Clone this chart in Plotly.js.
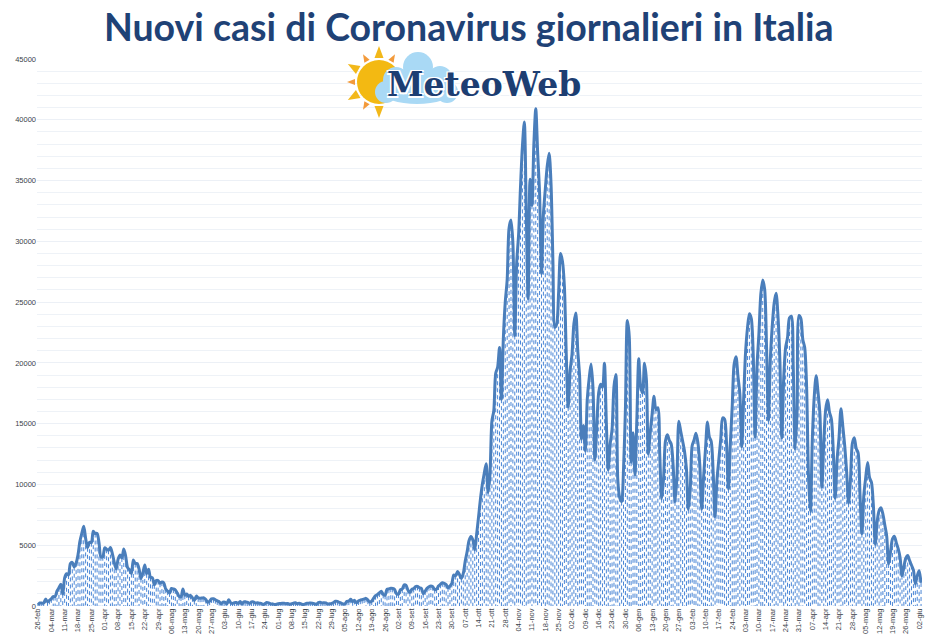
<!DOCTYPE html>
<html>
<head>
<meta charset="utf-8">
<script src="https://cdn.plot.ly/plotly-3.0.1.min.js"></script>
<style>
  html, body { margin: 0; padding: 0; background: #ffffff; }
  #chart { width: 932px; height: 639px; }
</style>
</head>
<body>
<div id="chart"></div>
<script>
// ---- Data: daily new cases in Italy, starting 26-feb-2020 ----
const feb2020 = [78, 250, 238, 240];
const mar2020 = [566, 342, 466, 587, 769, 778, 1247, 1492, 1797, 977, 2313, 2651, 2547, 3497, 3590, 3233, 3526, 4207, 5322, 5986, 6557, 5560, 4789, 5249, 5210, 6153, 5959, 5974, 5217, 4050, 4053];
const apr2020 = [4782, 4668, 4585, 4805, 4316, 3599, 3039, 3836, 4204, 3951, 4694, 4092, 3153, 2972, 2667, 3786, 3493, 3491, 3047, 2256, 2729, 3370, 2646, 3021, 2357, 2324, 1739, 2091, 2086, 1872];
const may2020 = [1965, 1900, 1389, 1221, 1075, 1444, 1401, 1327, 1083, 802, 744, 1402, 888, 992, 789, 875, 675, 451, 813, 665, 642, 652, 669, 531, 300, 397, 584, 593, 516, 416, 355];
const jun2020 = [178, 318, 321, 177, 518, 270, 197, 280, 283, 202, 379, 163, 346, 338, 301, 210, 329, 333, 251, 262, 224, 218, 122, 190, 296, 259, 175, 174, 126, 142];
const jul2020 = [187, 201, 223, 235, 192, 208, 138, 193, 229, 276, 188, 234, 169, 114, 162, 230, 233, 249, 219, 190, 129, 282, 306, 252, 275, 255, 170, 181, 212, 289, 386];
const aug2020 = [379, 295, 239, 159, 190, 384, 402, 552, 347, 463, 259, 412, 481, 523, 574, 629, 479, 320, 403, 642, 845, 947, 1071, 1210, 953, 878, 1367, 1411, 1460, 1444, 1365];
const sep2020 = [996, 978, 1326, 1397, 1733, 1695, 1297, 1108, 1370, 1434, 1597, 1616, 1501, 1458, 1008, 1229, 1452, 1585, 1638, 1587, 1350, 1392, 1640, 1786, 1912, 1869, 1766, 1494, 1648, 1851];
const oct2020 = [2548, 2499, 2844, 2578, 2257, 2677, 3678, 4458, 5372, 5724, 5456, 4619, 5901, 7332, 8804, 10010, 10925, 11705, 9338, 10874, 15199, 16079, 19143, 19644, 21273, 17012, 21994, 24991, 26831, 31084, 31758];
const nov2020 = [29907, 22253, 28244, 30550, 34505, 37809, 39811, 32616, 25271, 35098, 32961, 37978, 40902, 37255, 33979, 27354, 32191, 34283, 36176, 37242, 34767, 28337, 22930, 23232, 25853, 29003, 28352, 26323, 20648, 16377];
const dec2020 = [19350, 20709, 23225, 24099, 21052, 18887, 13720, 14842, 12756, 16999, 18727, 19903, 17938, 12030, 14844, 17572, 18236, 17992, 19974, 15104, 11210, 13318, 14522, 18040, 19037, 10407, 8913, 8585, 11212, 16202, 23477];
const jan2021 = [22211, 11831, 14245, 10800, 15378, 20331, 18020, 17533, 19978, 18627, 12532, 14242, 15774, 17246, 16146, 16310, 12545, 8825, 10497, 13571, 14078, 13633, 13331, 11629, 8561, 10593, 15204, 14372, 13574, 12715, 11252];
const feb2021 = [7925, 9660, 13189, 13659, 14218, 13442, 11641, 7970, 10630, 12956, 15146, 13908, 13532, 11068, 7351, 10386, 12074, 13762, 15479, 15370, 13452, 9630, 13314, 16424, 19886, 20499, 18916, 17455];
const mar2021 = [13114, 17083, 20884, 22865, 24036, 23641, 20765, 13902, 19749, 22409, 25673, 26824, 26062, 21315, 15267, 20396, 23059, 24935, 25735, 23832, 20159, 13846, 18765, 21267, 22072, 23696, 23839, 19611, 12916, 16017, 23904];
const apr2021 = [23649, 21932, 21261, 18025, 10680, 7767, 13708, 17221, 18938, 17567, 15746, 9789, 13447, 16168, 16974, 15943, 15370, 12694, 8864, 12074, 13844, 16232, 14761, 13158, 11000, 8444, 10404, 13385, 13844, 12965];
const may2021 = [12603, 9148, 5948, 9116, 10585, 11807, 10554, 10176, 8292, 5080, 6946, 7852, 8085, 7567, 6659, 5753, 3455, 4452, 5506, 5741, 5218, 4717, 3995, 2490, 3224, 3937, 4147, 3738, 3351, 2949, 1820];
const jun2021 = [2483, 2897, 1896];

// Weekly tick labels (one every 7 days from 26-feb-2020)
const tickLabels = ['26-feb','04-mar','11-mar','18-mar','25-mar','01-apr','08-apr','15-apr','22-apr','29-apr',
  '06-mag','13-mag','20-mag','27-mag','03-giu','10-giu','17-giu','24-giu','01-lug','08-lug','15-lug','22-lug','29-lug',
  '05-ago','12-ago','19-ago','26-ago','02-set','09-set','16-set','23-set','30-set','07-ott','14-ott','21-ott','28-ott',
  '04-nov','11-nov','18-nov','25-nov','02-dic','09-dic','16-dic','23-dic','30-dic','06-gen','13-gen','20-gen','27-gen',
  '03-feb','10-feb','17-feb','24-feb','03-mar','10-mar','17-mar','24-mar','31-mar','07-apr','14-apr','21-apr','28-apr',
  '05-mag','12-mag','19-mag','26-mag','02-giu'];

const yTicks = [0, 5000, 10000, 15000, 20000, 25000, 30000, 35000, 40000, 45000];

const titleText = 'Nuovi casi di Coronavirus giornalieri in Italia';
const logoText = 'MeteoWeb';

// ---- Build traces ----
const values = [].concat(feb2020, mar2020, apr2020, may2020, jun2020, jul2020, aug2020, sep2020,
  oct2020, nov2020, dec2020, jan2021, feb2021, mar2021, apr2021, may2021, jun2021);
const days = values.map((v, i) => i);

// drop lines drawn from each point down to the axis (dash phase starts at the point)
const dropX = [], dropY = [];
values.forEach((v, i) => { dropX.push(i, i, null); dropY.push(v, 0, null); });

const dropTrace = {
  x: dropX, y: dropY, type: 'scatter', mode: 'lines',
  line: { color: '#4A86D6', width: 1, dash: '4px,3px' },
  hoverinfo: 'skip', showlegend: false
};
const lineTrace = {
  x: days, y: values, type: 'scatter', mode: 'lines',
  line: { color: '#4A7EBB', width: 3, shape: 'spline', smoothing: 0.8 },
  showlegend: false
};

// ---- Logo geometry (pixel -> paper helpers) ----
const L = 37, R = 922, T = 59, B = 606;
const px = v => (v - L) / (R - L);
const py = v => (B - v) / (B - T);
function circ(cx, cy, r, color) {
  return { type: 'circle', xref: 'paper', yref: 'paper',
    x0: px(cx - r), x1: px(cx + r), y0: py(cy + r), y1: py(cy - r),
    fillcolor: color, line: { width: 0 }, layer: 'above' };
}
function ray(cx, cy, r, len, angDeg, halfW, color) {
  const a = angDeg * Math.PI / 180;
  const bx = cx + Math.cos(a) * r, by = cy - Math.sin(a) * r;
  const tx = cx + Math.cos(a) * (r + len), ty = cy - Math.sin(a) * (r + len);
  const nx = -Math.sin(a) * halfW, ny = -Math.cos(a) * halfW;
  const p = (x, y) => px(x).toFixed(5) + ',' + py(y).toFixed(5);
  return { type: 'path', xref: 'paper', yref: 'paper',
    path: 'M' + p(bx + nx, by + ny) + ' L' + p(tx, ty) + ' L' + p(bx - nx, by - ny) + ' Z',
    fillcolor: color, line: { width: 0 }, layer: 'above' };
}
const sunC = [379, 82], sunR = 22;
const shapes = [
  ray(sunC[0], sunC[1], sunR + 2, 12, 90, 4.5, '#F2B81A'),
  ray(sunC[0], sunC[1], sunR + 2, 8, 60, 3, '#F39A3A'),
  ray(sunC[0], sunC[1], sunR + 2, 8, 120, 3, '#F39A3A'),
  ray(sunC[0], sunC[1], sunR + 2, 12, 150, 4.5, '#F2B81A'),
  ray(sunC[0], sunC[1], sunR + 2, 8, 180, 3, '#F39A3A'),
  ray(sunC[0], sunC[1], sunR + 2, 12, 210, 4.5, '#F2B81A'),
  ray(sunC[0], sunC[1], sunR + 2, 8, 240, 3, '#F39A3A'),
  ray(sunC[0], sunC[1], sunR + 2, 12, 270, 4.5, '#F2B81A'),
  circ(sunC[0], sunC[1], sunR, '#F3B912'),
  circ(418, 67, 15, '#A9D9F5'),
  circ(396, 80, 13, '#A9D9F5'),
  circ(386, 92, 11, '#A9D9F5'),
  circ(440, 78, 12, '#A9D9F5'),
  circ(447, 92, 11, '#A9D9F5'),
  { type: 'circle', xref: 'paper', yref: 'paper', x0: px(382), x1: px(452), y0: py(104), y1: py(80),
    fillcolor: '#A9D9F5', line: { width: 0 }, layer: 'above' },
  circ(416, 84, 16, '#A9D9F5')
];

const tickFont = { family: 'Liberation Sans, Arial, sans-serif', size: 7.5, color: '#3B3F4A' };

const layout = {
  width: 932, height: 639,
  margin: { l: L, r: 932 - R, t: T, b: 639 - B, pad: 0 },
  paper_bgcolor: '#ffffff', plot_bgcolor: '#ffffff',
  showlegend: false,
  title: {
    text: '<b>' + titleText + '</b>',
    font: { family: 'Lato, Open Sans, sans-serif', size: 37.5, color: '#1F4276' },
    x: 0.503, xref: 'container', xanchor: 'center',
    y: 1 - 28 / 639, yref: 'container', yanchor: 'middle'
  },
  xaxis: {
    range: [-0.5, values.length - 0.5],
    tickmode: 'array',
    tickvals: tickLabels.map((t, k) => 7 * k),
    ticktext: tickLabels,
    tickangle: -90,
    tickfont: tickFont,
    showgrid: false, zeroline: false, showline: false,
    ticks: '', ticklen: 0
  },
  yaxis: {
    range: [0, 45000],
    tickmode: 'array',
    tickvals: yTicks,
    ticktext: yTicks.map(String),
    tickfont: tickFont,
    showgrid: true, gridcolor: '#ECF0F6', gridwidth: 1,
    minor: { dtick: 1000, showgrid: true, gridcolor: '#EEF2F7', gridwidth: 1 },
    zeroline: false, showline: false, ticks: ''
  },
  shapes: shapes,
  annotations: [{
    text: '<b>' + logoText + '</b>',
    xref: 'paper', yref: 'paper', x: px(484), y: py(84),
    xanchor: 'center', yanchor: 'middle', showarrow: false,
    font: { family: 'DejaVu Serif, Liberation Serif, serif', size: 33, color: '#1D3E72',
      shadow: '1.5px 1.5px 0 #fff, -1.5px -1.5px 0 #fff, 1.5px -1.5px 0 #fff, -1.5px 1.5px 0 #fff' }
  }]
};

Plotly.newPlot('chart', [dropTrace, lineTrace], layout, { displayModeBar: false, staticPlot: true });
</script>
</body>
</html>
